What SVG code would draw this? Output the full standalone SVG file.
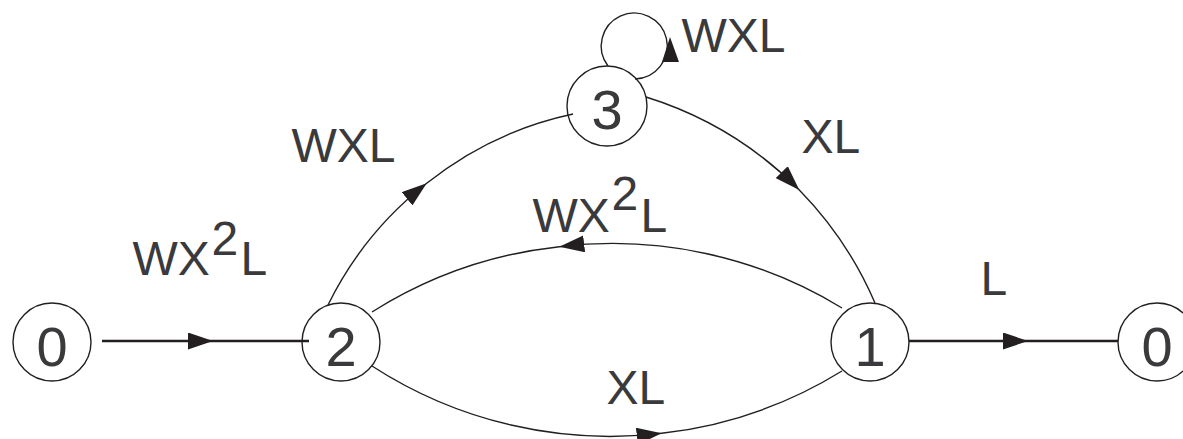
<svg xmlns="http://www.w3.org/2000/svg" width="1183" height="439" viewBox="0 0 1183 439">
  <style>
    .node circle { fill: none; stroke: #231f20; stroke-width: 1.4; }
    .node text, .lbl { font-family: "Liberation Sans", Arial, Helvetica, sans-serif; fill: #3a3a3c; }
    .node text { font-size: 56px; text-anchor: middle; }
    .lbl { font-size: 48px; }
    .edge { fill: none; stroke: #231f20; stroke-width: 1.4; marker-mid: url(#arr); }
    .edge.thick { stroke-width: 2.4; }
    .head { fill: #231f20; }
  </style>
  <defs>
    <marker id="arr" viewBox="0 0 25 17" refX="25" refY="8.5" markerWidth="25" markerHeight="17" markerUnits="userSpaceOnUse" orient="auto">
      <path d="M0,0 L25,8.5 L0,17 Z" fill="#231f20"/>
    </marker>
  </defs>

  <!-- transitions -->
  <g id="connectors">
    <path class="edge thick" d="M102,341 L213,341 L309,341"/>
    <path class="edge thick" d="M909,341 L1028,341 L1118,341"/>
    <path class="edge" d="M328,305 A352,352 0 0 1 426.7,183.3 A352,352 0 0 1 573,114"/>
    <path class="edge" d="M646,97 A371,371 0 0 1 799.3,190 A371,371 0 0 1 875,303"/>
    <path class="edge" d="M842,308 A440,440 0 0 0 559.3,246.7 A440,440 0 0 0 372,312"/>
    <path class="edge" d="M372,366 A437,437 0 0 0 661.7,433.3 A437,437 0 0 0 842,371"/>
    <!-- self loop on state 3 -->
    <path d="M635,79 A33,33 0 1 0 608,66" fill="none" stroke="#231f20" stroke-width="1.4"/>
    <polygon class="head" points="670,37 679,62 662,62"/>
  </g>

  <!-- states -->
  <g id="n0a" class="node">
    <circle cx="52" cy="342" r="39"/>
    <text x="52" y="366">0</text>
  </g>
  <g id="n2" class="node">
    <circle cx="341" cy="342" r="39"/>
    <text x="341" y="366">2</text>
  </g>
  <g id="n3" class="node">
    <circle cx="607" cy="106" r="40"/>
    <text x="607" y="129">3</text>
  </g>
  <g id="n1" class="node">
    <circle cx="870" cy="342" r="39"/>
    <text x="870" y="366">1</text>
  </g>
  <g id="n0b" class="node">
    <circle cx="1157" cy="342" r="39"/>
    <text x="1157" y="366">0</text>
  </g>

  <!-- edge labels -->
  <g id="labels">
    <text class="lbl"><tspan x="132.5" y="275">WX</tspan><tspan x="211.5" y="255">2</tspan><tspan x="240.5" y="275">L</tspan></text>
    <text class="lbl" x="291.5" y="162">WXL</text>
    <text class="lbl" x="681.5" y="52">WXL</text>
    <text class="lbl" x="801.5" y="153">XL</text>
    <text class="lbl"><tspan x="532.5" y="232">WX</tspan><tspan x="611.5" y="210">2</tspan><tspan x="640.5" y="232">L</tspan></text>
    <text class="lbl" x="980.5" y="295">L</text>
    <text class="lbl" x="606.5" y="404">XL</text>
  </g>
</svg>
